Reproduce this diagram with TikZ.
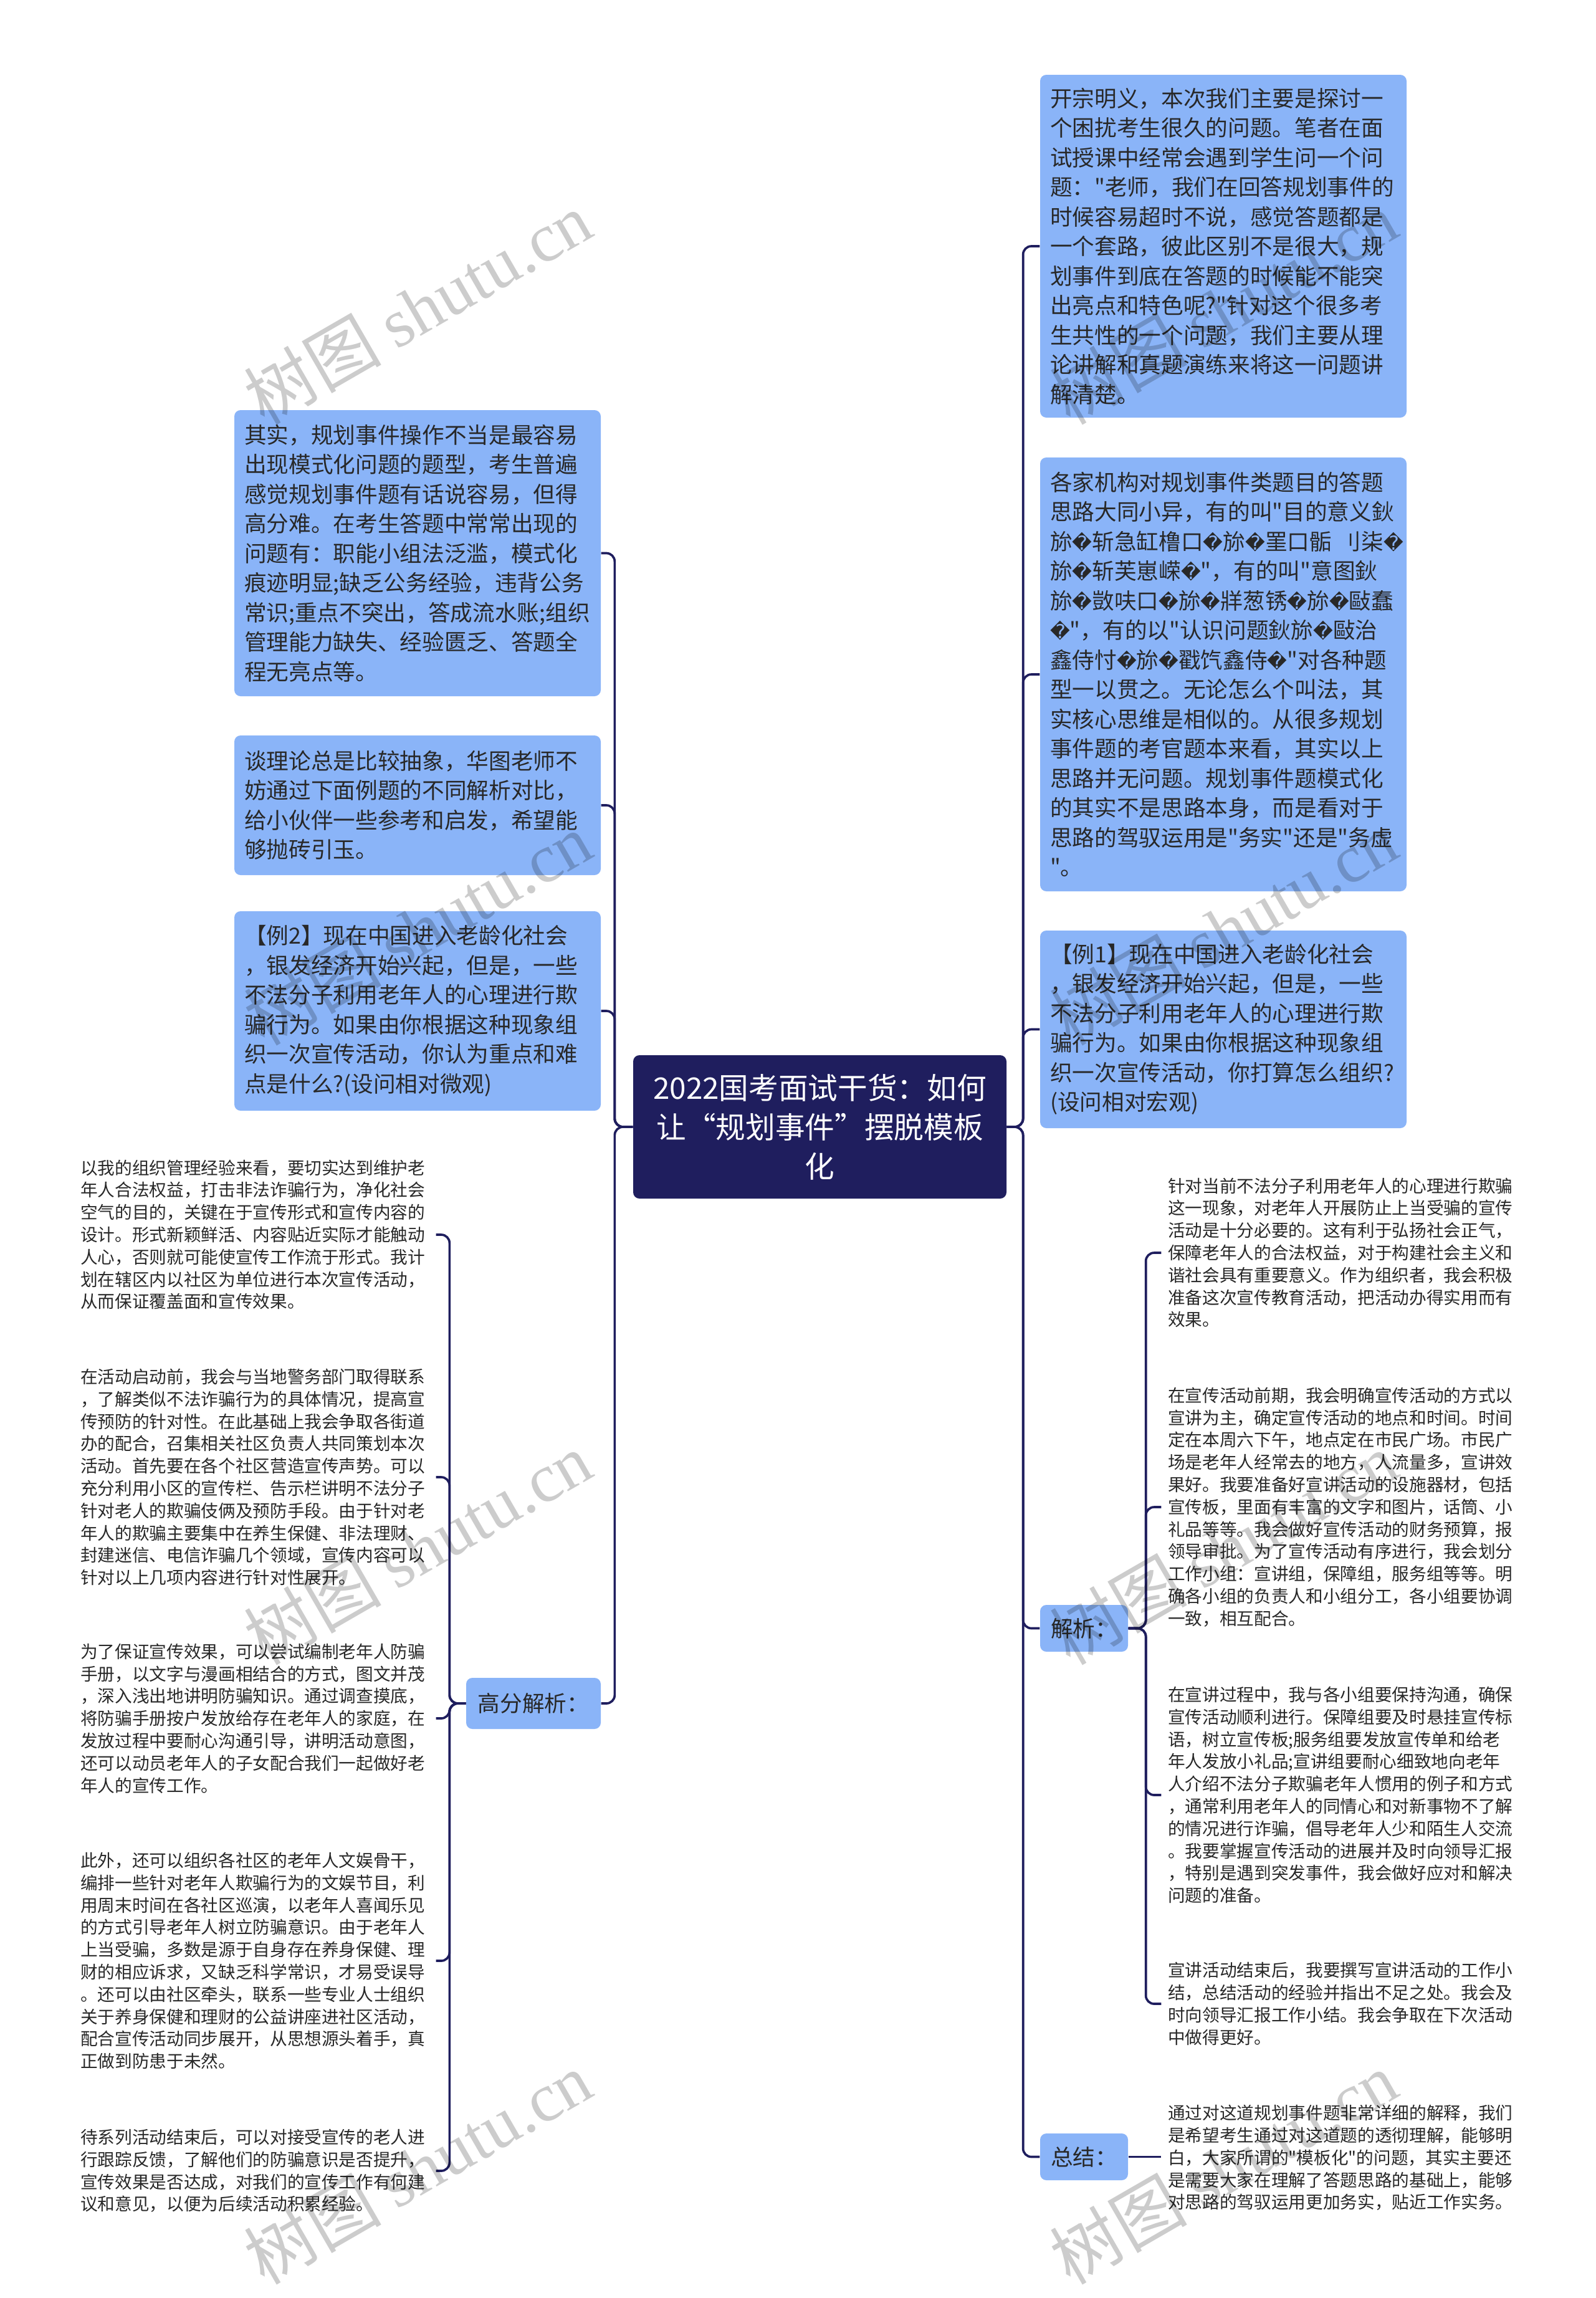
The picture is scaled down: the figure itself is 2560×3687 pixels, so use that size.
\documentclass[tikz,border=0pt]{standalone}
\usepackage{fontspec}
\setmainfont{Noto Sans CJK SC}[Ligatures=TeXOff]
\newfontfamily\djv{DejaVu Sans}
\newfontfamily\wmfont{Liberation Serif}
\newcommand\rp{{\djv\fontsize{9.3pt}{14.25pt}\selectfont\char"FFFD}}
\definecolor{boxblue}{RGB}{138,180,248}
\definecolor{navy}{RGB}{31,30,94}
\definecolor{txt}{RGB}{40,40,40}
\begin{document}
\begin{tikzpicture}[x=0.3pt,y=-0.3pt,
  bigbox/.style={fill=boxblue, rounded corners=3pt, text width=166.8pt, inner xsep=4.8pt, inner ysep=0pt,
    align=left, font=\fontsize{10.7pt}{14.25pt}\selectfont, text=txt},
  lblbox/.style={fill=boxblue, rounded corners=3pt, inner sep=0pt, align=center,
    font=\fontsize{10.7pt}{14.25pt}\selectfont, text=txt},
  smalltxt/.style={text width=168pt, inner xsep=3pt, inner ysep=0pt, align=left,
    font=\fontsize{8.3pt}{10.74pt}\selectfont, text=txt},
  titlebox/.style={fill=navy, rounded corners=3pt, text width=170pt, inner xsep=4.85pt, inner ysep=0pt,
    minimum height=69pt, align=center, font=\fontsize{14.3pt}{18.9pt}\selectfont, text=white},
  conn/.style={draw=navy, line width=1.1pt, rounded corners=4pt},
  wm/.style={rotate=30, text=black, opacity=0.2, font=\fontsize{33pt}{33pt}\selectfont}
]
\fill[white] (0,0) rectangle (2560,3687);
\useasboundingbox (0,0) rectangle (2560,3687);

% center
\node[titlebox] (ctr) at (1315.5,1808) {2022国考面试干货：如何\\让“规划事件”摆脱模板\\化};

% right big boxes
\node[bigbox, minimum height=165pt] (R1) at (1963,395) {开宗明义，本次我们主要是探讨一\\个困扰考生很久的问题。笔者在面\\试授课中经常会遇到学生问一个问\\题："老师，我们在回答规划事件的\\时候容易超时不说，感觉答题都是\\一个套路，彼此区别不是很大，规\\划事件到底在答题的时候能不能突\\出亮点和特色呢?"针对这个很多考\\生共性的一个问题，我们主要从理\\论讲解和真题演练来将这一问题讲\\解清楚。};

\node[bigbox, minimum height=208.8pt] (R2) at (1963,1082) {各家机构对规划事件类题目的答题\\思路大同小异，有的叫"目的意义鈥\\旀\rp 斩急缸橹口\rp 旀\rp 罣口骺~刂柒\rp\\旀\rp 斩芙崽嵘\rp"，有的叫"意图鈥\\旀\rp 敳呋口\rp 旀\rp 牂葱锈\rp 旀\rp 敺蠢\\\rp"，有的以"认识问题鈥旀\rp 敺治\\鑫侍忖\rp 旀\rp 戳饩鑫侍\rp"对各种题\\型一以贯之。无论怎么个叫法，其\\实核心思维是相似的。从很多规划\\事件题的考官题本来看，其实以上\\思路并无问题。规划事件题模式化\\的其实不是思路本身，而是看对于\\思路的驾驭运用是"务实"还是"务虚\\"。};

\node[bigbox, minimum height=95.1pt] (R3) at (1963,1651.5) {【例1】现在中国进入老龄化社会\\，银发经济开始兴起，但是，一些\\不法分子利用老年人的心理进行欺\\骗行为。如果由你根据这种现象组\\织一次宣传活动，你打算怎么组织?\\(设问相对宏观)};

\node[lblbox, minimum width=42.3pt, minimum height=22.5pt] (jx) at (1739.5,2612.5) {解析：};
\node[lblbox, minimum width=42.3pt, minimum height=22.5pt] (zj) at (1739.5,3460.5) {总结：};

% left big boxes
\node[bigbox, minimum height=137.7pt] (L1) at (670,887.5) {其实，规划事件操作不当是最容易\\出现模式化问题的题型，考生普遍\\感觉规划事件题有话说容易，但得\\高分难。在考生答题中常常出现的\\问题有：职能小组法泛滥，模式化\\痕迹明显;缺乏公务经验，违背公务\\常识;重点不突出，答成流水账;组织\\管理能力缺失、经验匮乏、答题全\\程无亮点等。};

\node[bigbox, minimum height=67.2pt] (L2) at (670,1292) {谈理论总是比较抽象，华图老师不\\妨通过下面例题的不同解析对比，\\给小伙伴一些参考和启发，希望能\\够抛砖引玉。};

\node[bigbox, minimum height=96pt] (L3) at (670,1622) {【例2】现在中国进入老龄化社会\\，银发经济开始兴起，但是，一些\\不法分子利用老年人的心理进行欺\\骗行为。如果由你根据这种现象组\\织一次宣传活动，你认为重点和难\\点是什么?(设问相对微观)};

\node[lblbox, minimum width=64.8pt, minimum height=24.6pt] (gf) at (856,2733) {高分解析：};

% left small texts
\node[smalltxt] (LB1) at (409,1981) {以我的组织管理经验来看，要切实达到维护老\\年人合法权益，打击非法诈骗行为，净化社会\\空气的目的，关键在于宣传形式和宣传内容的\\设计。形式新颖鲜活、内容贴近实际才能触动\\人心，否则就可能使宣传工作流于形式。我计\\划在辖区内以社区为单位进行本次宣传活动，\\从而保证覆盖面和宣传效果。};

\node[smalltxt] (LB2) at (409,2370) {在活动启动前，我会与当地警务部门取得联系\\，了解类似不法诈骗行为的具体情况，提高宣\\传预防的针对性。在此基础上我会争取各街道\\办的配合，召集相关社区负责人共同策划本次\\活动。首先要在各个社区营造宣传声势。可以\\充分利用小区的宣传栏、告示栏讲明不法分子\\针对老人的欺骗伎俩及预防手段。由于针对老\\年人的欺骗主要集中在养生保健、非法理财、\\封建迷信、电信诈骗几个领域，宣传内容可以\\针对以上几项内容进行针对性展开。};

\node[smalltxt] (LB3) at (409,2757) {为了保证宣传效果，可以尝试编制老年人防骗\\手册，以文字与漫画相结合的方式，图文并茂\\，深入浅出地讲明防骗知识。通过调查摸底，\\将防骗手册按户发放给存在老年人的家庭，在\\发放过程中要耐心沟通引导，讲明活动意图，\\还可以动员老年人的子女配合我们一起做好老\\年人的宣传工作。};

\node[smalltxt] (LB4) at (409,3146) {此外，还可以组织各社区的老年人文娱骨干，\\编排一些针对老年人欺骗行为的文娱节目，利\\用周末时间在各社区巡演，以老年人喜闻乐见\\的方式引导老年人树立防骗意识。由于老年人\\上当受骗，多数是源于自身存在养身保健、理\\财的相应诉求，又缺乏科学常识，才易受误导\\。还可以由社区牵头，联系一些专业人士组织\\关于养身保健和理财的公益讲座进社区活动，\\配合宣传活动同步展开，从思想源头着手，真\\正做到防患于未然。};

\node[smalltxt] (LB5) at (409,3483) {待系列活动结束后，可以对接受宣传的老人进\\行跟踪反馈，了解他们的防骗意识是否提升，\\宣传效果是否达成，对我们的宣传工作有何建\\议和意见，以便为后续活动积累经验。};

% right small texts
\node[smalltxt] (RB1) at (2154,2010) {针对当前不法分子利用老年人的心理进行欺骗\\这一现象，对老年人开展防止上当受骗的宣传\\活动是十分必要的。这有利于弘扬社会正气，\\保障老年人的合法权益，对于构建社会主义和\\谐社会具有重要意义。作为组织者，我会积极\\准备这次宣传教育活动，把活动办得实用而有\\效果。};

\node[smalltxt] (RB2) at (2154,2418) {在宣传活动前期，我会明确宣传活动的方式以\\宣讲为主，确定宣传活动的地点和时间。时间\\定在本周六下午，地点定在市民广场。市民广\\场是老年人经常去的地方，人流量多，宣讲效\\果好。我要准备好宣讲活动的设施器材，包括\\宣传板，里面有丰富的文字和图片，话筒、小\\礼品等等。我会做好宣传活动的财务预算，报\\领导审批。为了宣传活动有序进行，我会划分\\工作小组：宣讲组，保障组，服务组等等。明\\确各小组的负责人和小组分工，各小组要协调\\一致，相互配合。};

\node[smalltxt] (RB3) at (2154,2880) {在宣讲过程中，我与各小组要保持沟通，确保\\宣传活动顺利进行。保障组要及时悬挂宣传标\\语，树立宣传板;服务组要发放宣传单和给老\\年人发放小礼品;宣讲组要耐心细致地向老年\\人介绍不法分子欺骗老年人惯用的例子和方式\\，通常利用老年人的同情心和对新事物不了解\\的情况进行诈骗，倡导老年人少和陌生人交流\\。我要掌握宣传活动的进展并及时向领导汇报\\，特别是遇到突发事件，我会做好应对和解决\\问题的准备。};

\node[smalltxt] (RB4) at (2154,3215) {宣讲活动结束后，我要撰写宣讲活动的工作小\\结，总结活动的经验并指出不足之处。我会及\\时向领导汇报工作小结。我会争取在下次活动\\中做得更好。};

\node[smalltxt] (RB5) at (2154,3462) {通过对这道规划事件题非常详细的解释，我们\\是希望考生通过对这道题的透彻理解，能够明\\白，大家所谓的"模板化"的问题，其实主要还\\是需要大家在理解了答题思路的基础上，能够\\对思路的驾驭运用更加务实，贴近工作实务。};

% connectors: right of center
\foreach \c in {R1,R2,R3,jx,zj}
  \draw[conn] (ctr.east) -- ++(26,0) |- (\c.west);
% connectors: left of center
\foreach \c in {L1,L2,L3,gf}
  \draw[conn] (ctr.west) -- ++(-29,0) |- (\c.east);
% 解析 children
\foreach \c in {RB1,RB2,RB3,RB4}
  \draw[conn] (jx.east) -- ++(28,0) |- (\c.west);
\draw[conn] (zj.east) -- (zj.east -| RB5.west);
% 高分解析 children
\foreach \c in {LB1,LB2,LB3,LB4,LB5}
  \draw[conn] (gf.west) -- ++(-26,0) |- (\c.east);

% watermarks
\node[wm] (wm1) at (670,494) {树图 {\wmfont shutu.cn}};
\node[wm] (wm2) at (670,1490) {树图 {\wmfont shutu.cn}};
\node[wm] (wm3) at (670,2484) {树图 {\wmfont shutu.cn}};
\node[wm] (wm4) at (670,3478) {树图 {\wmfont shutu.cn}};
\node[wm] (wm5) at (1963,494) {树图 {\wmfont shutu.cn}};
\node[wm] (wm6) at (1963,1490) {树图 {\wmfont shutu.cn}};
\node[wm] (wm7) at (1963,2484) {树图 {\wmfont shutu.cn}};
\node[wm] (wm8) at (1963,3478) {树图 {\wmfont shutu.cn}};
\end{tikzpicture}
\end{document}
